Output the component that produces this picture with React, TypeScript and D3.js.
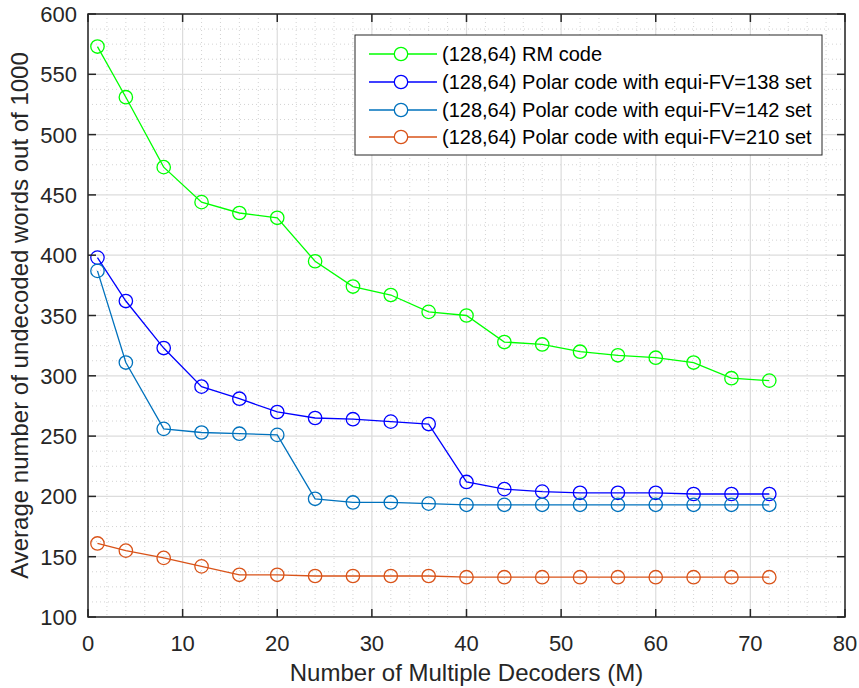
import React from "react";
import * as d3 from "d3";

const xValues = [1, 4, 8, 12, 16, 20, 24, 28, 32, 36, 40, 44, 48, 52, 56, 60, 64, 68, 72];
const rmCode = [573, 531, 473, 444, 435, 431, 395, 374, 367, 353, 350, 328, 326, 320, 317, 315, 311, 298, 296];
const polar138 = [398, 362, 323, 291, 281, 270, 265, 264, 262, 260, 212, 206, 204, 203, 203, 203, 202, 202, 202];
const polar142 = [387, 311, 256, 253, 252, 251, 198, 195, 195, 194, 193, 193, 193, 193, 193, 193, 193, 193, 193];
const polar210 = [161, 155, 149, 142, 135, 135, 134, 134, 134, 134, 133, 133, 133, 133, 133, 133, 133, 133, 133];

const seriesNames = [
  "(128,64) RM code",
  "(128,64) Polar code with equi-FV=138 set",
  "(128,64) Polar code with equi-FV=142 set",
  "(128,64) Polar code with equi-FV=210 set",
];
const seriesColors = ["#00FF00", "#0000FF", "#0072BD", "#D95319"];
const seriesData = [rmCode, polar138, polar142, polar210];

const xTicks = [0, 10, 20, 30, 40, 50, 60, 70, 80];
const yTicks = [100, 150, 200, 250, 300, 350, 400, 450, 500, 550, 600];

const xLabel = "Number of Multiple Decoders (M)";
const yLabel = "Average number of undecoded words out of 1000";

export default function App() {
  const W = 859, H = 688;
  const L = 88, R = 845, T = 14, B = 617;
  const x = d3.scaleLinear().domain([0, 80]).range([L, R]);
  const y = d3.scaleLinear().domain([100, 600]).range([B, T]);
  const font = "'Liberation Sans', Arial, Helvetica, sans-serif";
  const textColor = "#262626";

  const xMinor = d3.range(0, 80.001, 2).filter((v) => v % 10 !== 0);
  const yMinor = d3.range(100, 600.001, 12.5).filter((v) => v % 50 !== 0);

  const line = d3
    .line<number>()
    .x((_, i) => x(xValues[i]))
    .y((d) => y(d));

  const lg = { x: 355, y: 35, w: 467, h: 120 };
  const rowY = [54, 82, 110, 137];

  return (
    <svg width={W} height={H} style={{ position: "absolute", left: 0, top: 0 }}>
      <rect x={0} y={0} width={W} height={H} fill="#ffffff" />
      <rect x={L} y={T} width={R - L} height={B - T} fill="#ffffff" />
      {/* minor grid */}
      {xMinor.map((v) => (
        <line key={"xm" + v} x1={x(v)} x2={x(v)} y1={T} y2={B} stroke="#c8c8c8" strokeWidth={0.8} strokeDasharray="1,3" />
      ))}
      {yMinor.map((v) => (
        <line key={"ym" + v} x1={L} x2={R} y1={y(v)} y2={y(v)} stroke="#c8c8c8" strokeWidth={0.8} strokeDasharray="1,3" />
      ))}
      {/* major grid */}
      {xTicks.map((v) => (
        <line key={"xg" + v} x1={x(v)} x2={x(v)} y1={T} y2={B} stroke="#dcdcdc" strokeWidth={1.2} />
      ))}
      {yTicks.map((v) => (
        <line key={"yg" + v} x1={L} x2={R} y1={y(v)} y2={y(v)} stroke="#dcdcdc" strokeWidth={1.2} />
      ))}
      {/* series */}
      {seriesData.map((data, si) => (
        <g key={"s" + si}>
          <path d={line(data) || ""} fill="none" stroke={seriesColors[si]} strokeWidth={1.3} />
          {data.map((v, i) => (
            <circle key={i} cx={x(xValues[i])} cy={y(v)} r={6.7} fill="none" stroke={seriesColors[si]} strokeWidth={1.3} />
          ))}
        </g>
      ))}
      {/* axes box */}
      <rect x={L} y={T} width={R - L} height={B - T} fill="none" stroke={textColor} strokeWidth={1.5} />
      {xTicks.map((v) => (
        <g key={"xt" + v}>
          <line x1={x(v)} x2={x(v)} y1={B} y2={B - 8} stroke={textColor} strokeWidth={1.5} />
          <line x1={x(v)} x2={x(v)} y1={T} y2={T + 8} stroke={textColor} strokeWidth={1.5} />
          <text x={x(v)} y={651} textAnchor="middle" fontFamily={font} fontSize={22} fill={textColor}>
            {v}
          </text>
        </g>
      ))}
      {yTicks.map((v) => (
        <g key={"yt" + v}>
          <line x1={L} x2={L + 8} y1={y(v)} y2={y(v)} stroke={textColor} strokeWidth={1.5} />
          <line x1={R} x2={R - 8} y1={y(v)} y2={y(v)} stroke={textColor} strokeWidth={1.5} />
          <text x={L - 11} y={y(v) + 8} textAnchor="end" fontFamily={font} fontSize={22} fill={textColor}>
            {v}
          </text>
        </g>
      ))}
      <text x={(L + R) / 2} y={681} textAnchor="middle" fontFamily={font} fontSize={24} fill={textColor}>
        {xLabel}
      </text>
      <text
        transform={`translate(28, ${(T + B) / 2}) rotate(-90)`}
        textAnchor="middle"
        fontFamily={font}
        fontSize={24}
        fill={textColor}
      >
        {yLabel}
      </text>
      {/* legend */}
      <rect x={lg.x} y={lg.y} width={lg.w} height={lg.h} fill="#ffffff" stroke={textColor} strokeWidth={1} />
      {seriesNames.map((name, i) => (
        <g key={"lg" + i}>
          <line x1={369} x2={437} y1={rowY[i]} y2={rowY[i]} stroke={seriesColors[i]} strokeWidth={1.3} />
          <circle cx={401} cy={rowY[i]} r={6.7} fill="#ffffff" stroke={seriesColors[i]} strokeWidth={1.3} />
          <text x={442} y={rowY[i] + 7} fontFamily={font} fontSize={20} fill="#000000">
            {name}
          </text>
        </g>
      ))}
    </svg>
  );
}
